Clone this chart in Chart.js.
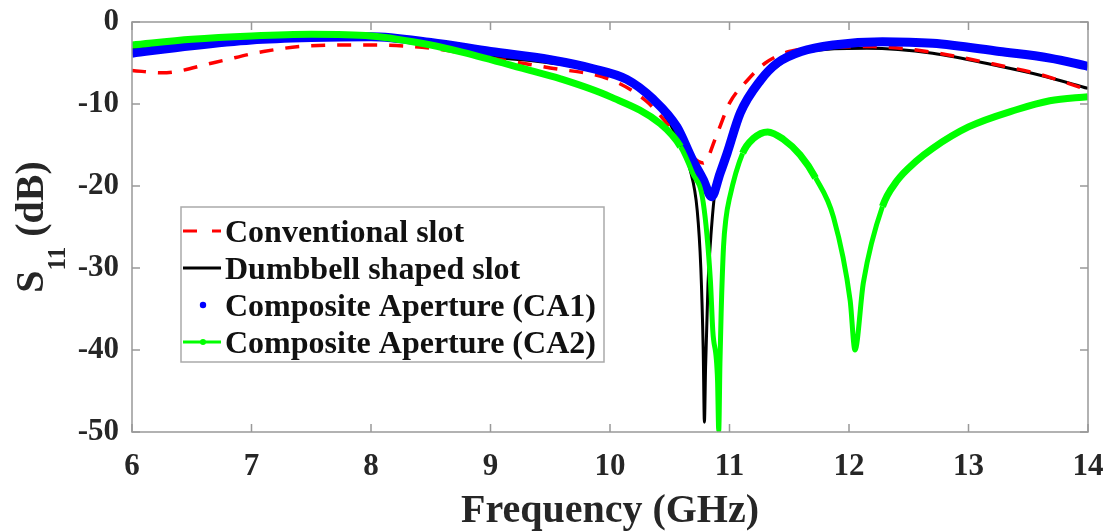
<!DOCTYPE html>
<html>
<head>
<meta charset="utf-8">
<title>S11 comparison</title>
<script src="https://cdn.jsdelivr.net/npm/chart.js@4/dist/chart.umd.min.js"></script>
<style>
  html, body { margin: 0; padding: 0; background: #fff; }
  #wrap { width: 1111px; height: 532px; }
</style>
</head>
<body>
<div id="wrap"><canvas id="s11Chart"></canvas></div>
<script>
// datos (GHz, dB)
const convFreq = [6, 6.25, 6.7, 7.1, 7.5, 8, 8.5, 9, 9.5, 10, 10.3, 10.5, 10.65, 10.78, 10.9, 11.0, 11.15, 11.3, 11.5, 11.8, 12.2, 12.7, 13.2, 13.6, 14];
const convS11 = [-5.9, -6.2, -4.9, -3.6, -2.9, -2.8, -3.2, -4.4, -5.6, -7.0, -9.6, -12.8, -15.8, -17.2, -13.5, -9.9, -7.1, -5.0, -3.6, -3.1, -3.0, -3.7, -5.1, -6.4, -8.3];

const dumbFreq = [6, 6.5, 7, 7.5, 8, 8.5, 9, 9.5, 10, 10.3, 10.45, 10.56, 10.67, 10.73, 10.76, 10.78, 10.79, 10.8, 10.82, 10.85, 10.88, 10.95, 11.05, 11.2, 11.4, 11.6, 12.15, 12.7, 13.26, 13.6, 14];
const dumbS11 = [-3.4, -2.6, -2.1, -1.9, -2.0, -2.8, -4.2, -5.0, -6.3, -8.8, -11.2, -14, -18, -23, -30, -40, -48.8, -42, -32, -25, -20.5, -17, -12.3, -8.3, -5.4, -3.8, -3.2, -3.8, -5.4, -6.5, -8.1];

const caOneFreq = [6, 6.5, 7, 7.5, 8, 8.5, 9, 9.5, 9.86, 10.14, 10.36, 10.56, 10.69, 10.78, 10.85, 10.92, 10.98, 11.09, 11.26, 11.4, 11.6, 11.87, 12.28, 12.7, 13.26, 13.68, 14];
const caOneS11 = [-3.8, -2.9, -2.2, -1.9, -1.8, -2.5, -3.6, -4.6, -5.7, -7.0, -9.4, -12.8, -16.8, -19.2, -21.3, -18.5, -16, -11.1, -7.1, -5.0, -3.6, -2.8, -2.4, -2.6, -3.6, -4.4, -5.4];

const caTwoFreq = [6, 6.5, 7, 7.5, 8, 8.5, 8.77, 9.33, 9.58, 10, 10.42, 10.59, 10.69, 10.78, 10.84, 10.86, 10.9, 10.91, 10.92, 10.93, 10.95, 10.97, 11.0, 11.11, 11.2, 11.32, 11.45, 11.59, 11.72, 11.87, 12.01, 12.05, 12.12, 12.28, 12.4, 12.56, 12.7, 13.0, 13.4, 13.68, 14];
const caTwoS11 = [-2.8, -2.1, -1.7, -1.5, -1.7, -2.8, -3.7, -5.9, -6.9, -9.1, -12.4, -15.2, -18.4, -22, -31.5, -37.6, -43.7, -49.8, -41.6, -35.5, -27.4, -24, -21.5, -16, -14.2, -13.4, -14.3, -16.2, -19, -23.8, -34, -40, -31.8, -22.5, -19.4, -17.0, -15.4, -12.8, -10.7, -9.6, -9.1];

const xTicks = [6, 7, 8, 9, 10, 11, 12, 13, 14];
const yTicks = [0, -10, -20, -30, -40, -50];

const seriesNames = ['Conventional slot', 'Dumbbell shaped slot', 'Composite Aperture (CA1)', 'Composite Aperture (CA2)'];

const FONT = '"Liberation Serif", "Times New Roman", serif';

function toPoints(xs, ys) {
    return xs.map((x, i) => ({ x: x, y: ys[i] }));
}

// tramos muy inclinados se ven mas finos en el original
function steepWidth(ctx, flat, steep) {
    const dx = Math.abs(ctx.p1.x - ctx.p0.x);
    const dy = Math.abs(ctx.p1.y - ctx.p0.y);
    return dy > dx * 2 ? steep : flat;
}

// Marco con marcas hacia dentro, leyenda y titulos de ejes
const framePlugin = {
    id: 'frame',
    afterDraw(chart) {
        const ctx = chart.ctx;
        const a = chart.chartArea;
        const sx = chart.scales.x, sy = chart.scales.y;
        ctx.save();
        ctx.strokeStyle = '#999';
        ctx.lineWidth = 1.5;
        ctx.strokeRect(a.left, a.top, a.right - a.left, a.bottom - a.top);
        ctx.beginPath();
        xTicks.forEach(t => {
            const px = sx.getPixelForValue(t);
            ctx.moveTo(px, a.bottom); ctx.lineTo(px, a.bottom - 8);
            ctx.moveTo(px, a.top); ctx.lineTo(px, a.top + 8);
        });
        yTicks.forEach(t => {
            const py = sy.getPixelForValue(t);
            ctx.moveTo(a.left, py); ctx.lineTo(a.left + 8, py);
            ctx.moveTo(a.right, py); ctx.lineTo(a.right - 8, py);
        });
        ctx.stroke();

        // titulo eje x
        ctx.fillStyle = '#262626';
        ctx.font = 'bold 40px ' + FONT;
        ctx.textAlign = 'center';
        ctx.textBaseline = 'alphabetic';
        ctx.fillText('Frequency (GHz)', (a.left + a.right) / 2, 522);

        // titulo eje y con subindice
        const big = 'bold 40px ' + FONT, small = 'bold 25px ' + FONT;
        ctx.font = big;
        const wS = ctx.measureText('S').width;
        const wRest = ctx.measureText(' (dB)').width;
        ctx.font = small;
        const wSub = ctx.measureText('11').width;
        const total = wS + wSub + wRest;
        ctx.translate(43, (a.top + a.bottom) / 2);
        ctx.rotate(-Math.PI / 2);
        ctx.textAlign = 'left';
        let x0 = -total / 2;
        ctx.font = big;
        ctx.fillText('S', x0, 0);
        ctx.font = small;
        ctx.fillText('11', x0 + wS, 22);
        ctx.font = big;
        ctx.fillText(' (dB)', x0 + wS + wSub, 0);
        ctx.restore();

        // leyenda
        ctx.save();
        ctx.fillStyle = '#fff';
        ctx.fillRect(181, 207, 423, 155);
        ctx.strokeStyle = '#aaa';
        ctx.lineWidth = 1.5;
        ctx.strokeRect(181, 207, 423, 155);
        ctx.font = 'bold 32px ' + FONT;
        ctx.fillStyle = '#111';
        ctx.textAlign = 'left';
        ctx.textBaseline = 'alphabetic';
        seriesNames.forEach((name, i) => {
            const base = 242 + i * 37;
            const mid = base - 11;
            ctx.lineWidth = 3;
            if (i === 0) {
                ctx.strokeStyle = '#ff0000';
                ctx.beginPath();
                ctx.moveTo(183, mid); ctx.lineTo(197, mid);
                ctx.moveTo(212, mid); ctx.lineTo(221, mid);
                ctx.stroke();
            } else if (i === 1) {
                ctx.strokeStyle = '#000';
                ctx.beginPath();
                ctx.moveTo(183, mid); ctx.lineTo(221, mid);
                ctx.stroke();
            } else if (i === 2) {
                ctx.fillStyle = '#0000ff';
                ctx.beginPath();
                ctx.arc(203, mid, 3.2, 0, Math.PI * 2);
                ctx.fill();
            } else {
                ctx.strokeStyle = '#00ff00';
                ctx.fillStyle = '#00ff00';
                ctx.beginPath();
                ctx.moveTo(183, mid); ctx.lineTo(221, mid);
                ctx.stroke();
                ctx.beginPath();
                ctx.arc(203, mid, 3, 0, Math.PI * 2);
                ctx.fill();
            }
            ctx.fillStyle = '#111';
            ctx.fillText(name, 225, base);
        });
        ctx.restore();
    }
};

const ctx = document.getElementById('s11Chart').getContext('2d');
const s11Chart = new Chart(ctx, {
    type: 'line',
    data: {
        datasets: [
            {
                label: seriesNames[3],
                data: toPoints(caTwoFreq, caTwoS11),
                borderColor: '#00ff00',
                backgroundColor: '#00ff00',
                borderWidth: 7,
                segment: { borderWidth: c => steepWidth(c, 7, 5) },
                pointRadius: 0,
                cubicInterpolationMode: 'monotone',
                order: 1
            },
            {
                label: seriesNames[2],
                data: toPoints(caOneFreq, caOneS11),
                borderColor: '#0000ff',
                backgroundColor: '#0000ff',
                borderWidth: 9,
                pointRadius: 0,
                cubicInterpolationMode: 'monotone',
                order: 2
            },
            {
                label: seriesNames[0],
                data: toPoints(convFreq, convS11),
                borderColor: '#ff0000',
                borderWidth: 3.5,
                borderDash: [14, 12],
                pointRadius: 0,
                cubicInterpolationMode: 'monotone',
                order: 3
            },
            {
                label: seriesNames[1],
                data: toPoints(dumbFreq, dumbS11),
                borderColor: '#000000',
                borderWidth: 3,
                pointRadius: 0,
                cubicInterpolationMode: 'monotone',
                order: 4
            }
        ]
    },
    options: {
        responsive: true,
        maintainAspectRatio: false,
        animation: false,
        layout: { padding: { top: 22, right: 23, left: 0, bottom: 0 } },
        plugins: {
            legend: { display: false },
            tooltip: { enabled: false }
        },
        scales: {
            x: {
                type: 'linear',
                min: 6,
                max: 14,
                afterFit: s => { s.height = 100; s.paddingLeft = 0; s.paddingRight = 0; },
                afterBuildTicks: s => { s.ticks = xTicks.map(v => ({ value: v })); },
                grid: { display: false, drawTicks: false },
                border: { display: false },
                ticks: {
                    padding: 16,
                    color: '#262626',
                    font: { family: FONT, size: 31, weight: 'bold' }
                }
            },
            y: {
                min: -50,
                max: 0,
                afterFit: s => { s.width = 132; s.paddingTop = 0; s.paddingBottom = 0; },
                afterBuildTicks: s => { s.ticks = yTicks.map(v => ({ value: v })); },
                grid: { display: false, drawTicks: false },
                border: { display: false },
                ticks: {
                    padding: 13,
                    color: '#262626',
                    font: { family: FONT, size: 31, weight: 'bold' }
                }
            }
        }
    },
    plugins: [framePlugin]
});
</script>
</body>
</html>
